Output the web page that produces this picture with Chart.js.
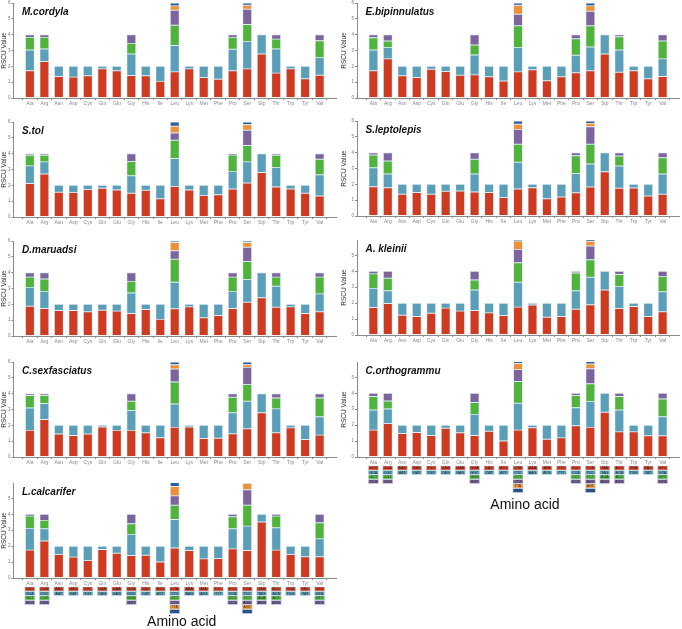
<!doctype html>
<html lang="en">
  <head>
    <meta charset="UTF-8">
    <title>RSCU</title>
    <style>
      body { margin: 0; background: #fff; }
      #wrap { position: relative; width: 682px; height: 629px; overflow: hidden; }
      #wrap canvas { position: absolute; }
    </style>
  </head>
  <body>
    <div id="wrap"></div>

    <script src="https://cdn.jsdelivr.net/npm/chart.js@4.4.1/dist/chart.umd.min.js"></script>
    <script>
    // Data-----
    const aminoAcids = ['Ala','Arg','Asn','Asp','Cys','Gln','Glu','Gly','His','Ile','Leu','Lys','Met','Phe','Pro','Ser','Stp','Thr','Trp','Tyr','Val'];
    const codons = [
      ['GCC','GCA','GCT','GCG'], ['CGA','CGC','CGT','CGG'], ['AAC','AAT'], ['GAC','GAT'], ['TGC','TGT'],
      ['CAA','CAG'], ['GAA','GAG'], ['GGA','GGC','GGG','GGT'], ['CAC','CAT'], ['ATC','ATT'],
      ['CTA','CTC','CTT','CTG','TTA','TTG'], ['AAA','AAG'], ['ATA','ATG'], ['TTC','TTT'],
      ['CCC','CCA','CCT','CCG'], ['TCA','TCC','TCT','AGC','AGT','TCG'], ['TAA','TAG','AGA','AGG'],
      ['ACC','ACA','ACT','ACG'], ['TGA','TGG'], ['TAC','TAT'], ['GTC','GTA','GTT','GTG']
    ];

    // RSCU per amino acid, codons in the order above
    const mCordyla = [
      [1.72,1.31,0.80,0.17],[2.30,0.80,0.73,0.17],[1.36,0.64],[1.32,0.68],[1.40,0.60],[1.84,0.16],[1.72,0.28],
      [1.42,1.36,0.67,0.55],[1.40,0.60],[1.05,0.95],[1.65,1.66,1.29,0.94,0.28,0.18],[1.84,0.16],[1.30,0.70],
      [1.19,0.81],[1.72,1.36,0.75,0.17],[1.84,1.72,1.08,0.97,0.25,0.14],[2.78,1.22,0,0],[1.57,1.53,0.62,0.28],
      [1.84,0.16],[1.21,0.79],[1.44,1.11,1.07,0.38]
    ];
    const eBipinnulatus = [
      [1.72,1.31,0.78,0.19],[2.47,0.71,0.42,0.40],[1.40,0.60],[1.30,0.70],[1.82,0.18],[1.67,0.33],[1.44,0.56],
      [1.46,1.26,0.63,0.65],[1.34,0.66],[1.07,0.93],[1.65,1.53,1.38,0.73,0.57,0.14],[1.78,0.22],[1.09,0.91],
      [1.34,0.66],[1.59,1.11,1.04,0.26],[1.72,1.50,1.34,0.92,0.34,0.18],[2.78,1.22,0,0],[1.63,1.40,0.84,0.13],
      [1.72,0.28],[1.21,0.79],[1.36,1.11,1.13,0.40]
    ];
    const sTol = [
      [2.12,1.11,0.67,0.10],[2.71,0.77,0.42,0.10],[1.56,0.44],[1.54,0.46],[1.73,0.27],[1.81,0.19],[1.71,0.29],
      [1.50,1.10,0.90,0.50],[1.69,0.31],[1.15,0.85],[1.92,1.77,1.16,0.46,0.42,0.27],[1.71,0.29],[1.35,0.65],
      [1.40,0.60],[1.77,1.11,1.04,0.08],[2.15,1.33,1.04,0.96,0.35,0.17],[2.81,1.19,0,0],[1.90,1.22,0.78,0.10],
      [1.77,0.23],[1.50,0.50],[1.33,1.34,0.98,0.35]
    ];
    const sLeptolepis = [
      [1.85,1.20,0.80,0.15],[1.79,0.86,0.82,0.53],[1.37,0.63],[1.49,0.51],[1.37,0.63],[1.56,0.44],[1.58,0.42],
      [1.52,1.13,0.93,0.42],[1.49,0.51],[1.16,0.84],[1.71,1.68,1.14,0.94,0.32,0.21],[1.79,0.21],[1.09,0.91],
      [1.20,0.80],[1.47,1.22,1.12,0.19],[1.83,1.45,1.25,1.11,0.21,0.15],[2.80,1.20,0,0],[1.75,1.41,0.63,0.21],
      [1.77,0.23],[1.26,0.74],[1.37,1.28,1.03,0.32]
    ];
    const dMaruadsi = [
      [1.88,1.19,0.65,0.28],[1.74,1.08,0.78,0.40],[1.61,0.39],[1.61,0.39],[1.53,0.47],[1.63,0.37],[1.57,0.43],
      [1.42,1.30,0.73,0.55],[1.67,0.33],[1.05,0.95],[1.72,1.67,1.46,0.53,0.52,0.10],[1.84,0.16],[1.15,0.85],
      [1.30,0.70],[1.74,1.08,0.90,0.28],[2.13,1.43,1.15,0.90,0.29,0.10],[2.41,1.59,0,0],[1.82,1.32,0.58,0.28],
      [1.84,0.16],[1.42,0.58],[1.53,1.13,1.06,0.28]
    ];
    const aKleinii = [
      [1.73,1.20,0.91,0.16],[1.98,0.80,0.79,0.43],[1.24,0.76],[1.16,0.84],[1.37,0.63],[1.69,0.31],[1.50,0.50],
      [1.54,1.29,0.63,0.54],[1.39,0.61],[1.22,0.78],[1.75,1.56,1.23,0.84,0.53,0.09],[1.88,0.12],[1.12,0.88],
      [1.16,0.84],[1.62,1.16,1.12,0.10],[1.90,1.73,1.10,0.86,0.30,0.11],[2.83,1.17,0,0],[1.67,1.37,0.76,0.20],
      [1.79,0.21],[1.16,0.84],[1.46,1.26,0.95,0.33]
    ];
    const cSexfasciatus = [
      [1.68,1.42,0.78,0.12],[2.37,1.01,0.50,0.12],[1.45,0.55],[1.36,0.64],[1.45,0.55],[1.89,0.11],[1.68,0.32],
      [1.68,1.26,0.58,0.48],[1.53,0.47],[1.22,0.78],[1.87,1.48,1.39,0.82,0.27,0.17],[1.89,0.11],[1.17,0.83],
      [1.19,0.81],[1.47,1.32,0.98,0.23],[1.78,1.74,1.05,1.09,0.17,0.17],[2.79,1.21,0,0],[1.53,1.51,0.69,0.27],
      [1.84,0.16],[1.11,0.89],[1.38,1.16,1.19,0.27]
    ];
    const lCalcarifer = [
      [1.75,1.37,0.77,0.11],[2.32,0.77,0.53,0.38],[1.47,0.53],[1.31,0.69],[1.09,0.91],[1.79,0.21],[1.56,0.44],
      [1.41,1.33,0.67,0.59],[1.43,0.57],[1.01,0.99],[1.89,1.79,0.89,0.59,0.59,0.25],[1.73,0.27],[1.20,0.80],
      [1.22,0.78],[1.83,1.26,0.76,0.15],[1.73,1.53,1.31,0.97,0.40,0.06],[3.52,0.48,0,0],[1.75,1.41,0.73,0.11],
      [1.47,0.53],[1.33,0.67],[1.33,1.13,1.01,0.53]
    ];
    const cOrthogrammu = [
      [1.69,1.26,0.85,0.20],[2.11,0.91,0.50,0.48],[1.48,0.52],[1.54,0.46],[1.35,0.65],[1.81,0.19],[1.52,0.48],
      [1.35,1.33,0.74,0.58],[1.62,0.38],[1.01,0.99],[1.69,1.69,1.37,0.74,0.38,0.13],[1.84,0.16],[1.12,0.88],
      [1.20,0.80],[1.96,1.14,0.76,0.14],[1.86,1.62,1.12,0.95,0.29,0.16],[2.81,1.19,0,0],[1.58,1.37,0.85,0.20],
      [1.58,0.42],[1.33,0.67],[1.33,1.20,1.12,0.35]
    ];
    // Data-----

    // Layout-----
    const segColors = ['#CF3B20', '#5B9EB8', '#50B43C', '#7C649C', '#EE9035', '#2F5D98'];
    const columns = [
      {left: 0, width: 340, yWidth: 13.5, padRight: 4},
      {left: 340, width: 342, yWidth: 17, padRight: 3}
    ];
    const areaH = 95;
    const panels = [
      {name: 'M.cordyla', rscu: mCordyla, col: 0, top: 3, ymax: 6},
      {name: 'S.tol', rscu: sTol, col: 0, top: 122, ymax: 6},
      {name: 'D.maruadsi', rscu: dMaruadsi, col: 0, top: 241, ymax: 6},
      {name: 'C.sexfasciatus', rscu: cSexfasciatus, col: 0, top: 362, ymax: 6},
      {name: 'L.calcarifer', rscu: lCalcarifer, col: 0, top: 483, ymax: 5.97, bottom: 150, titleY: 44},
      {name: 'E.bipinnulatus', rscu: eBipinnulatus, col: 1, top: 3, ymax: 6},
      {name: 'S.leptolepis', rscu: sLeptolepis, col: 1, top: 121, ymax: 6},
      {name: 'A. kleinii', rscu: aKleinii, col: 1, top: 240, ymax: 5.97},
      {name: 'C.orthogrammu', rscu: cOrthogrammu, col: 1, top: 362, ymax: 5.97, bottom: 160, titleY: 48}
    ];
    // Layout-----

    // species name, codon boxes and "Amino acid"
    const panelDecor = {
      id: 'panelDecor',
      afterDraw(chart, args, opts) {
        const {ctx, chartArea: a} = chart;
        const x = chart.scales.x;
        ctx.save();
        ctx.fillStyle = '#111';
        ctx.font = 'italic bold 10px "Liberation Sans", Arial, sans-serif';
        ctx.textAlign = 'left';
        ctx.textBaseline = 'alphabetic';
        ctx.fillText(opts.name, a.left + 8.5, a.top + 12);
        if (opts.bottom) {
          ctx.font = '3.6px "Liberation Sans", Arial, sans-serif';
          ctx.textAlign = 'center';
          ctx.textBaseline = 'middle';
          codons.forEach((list, i) => {
            const cx = x.getPixelForValue(i);
            list.forEach((cod, k) => {
              const cy = a.bottom + 11 + k * 4.5;
              ctx.fillStyle = segColors[k];
              ctx.fillRect(cx - 5, cy - 2, 10, 4);
              ctx.strokeStyle = 'rgba(205,222,235,0.9)';
              ctx.lineWidth = 0.6;
              ctx.strokeRect(cx - 5, cy - 2, 10, 4);
              ctx.fillStyle = 'rgba(35,35,35,0.85)';
              ctx.fillText(cod, cx, cy + 0.2);
            });
          });
          ctx.fillStyle = '#111';
          ctx.font = '14px "Liberation Sans", Arial, sans-serif';
          ctx.fillText('Amino acid', (a.left + a.right) / 2 + 7, a.bottom + opts.titleY);
        }
        ctx.restore();
      }
    };

    panels.forEach((p, n) => {
      const col = columns[p.col];
      const h = p.bottom || 111;
      const canvas = document.createElement('canvas');
      canvas.id = 'panel' + n;
      canvas.width = col.width;
      canvas.height = h;
      canvas.style.left = col.left + 'px';
      canvas.style.top = (p.top - 4) + 'px';
      document.getElementById('wrap').appendChild(canvas);

      const datasets = segColors.map((color, k) => ({
        data: p.rscu.map((vals, i) => vals[k] === undefined ? null : {x: i, y: vals[k]}).filter(Boolean),
        backgroundColor: color,
        borderColor: 'rgba(222,234,243,0.9)',
        borderWidth: 0.8,
        borderSkipped: false,
        barThickness: 9,
        stack: 'rscu'
      }));

      new Chart(canvas, {
        type: 'bar',
        data: {datasets},
        plugins: [panelDecor],
        options: {
          responsive: false,
          animation: false,
          devicePixelRatio: 1,
          layout: {padding: {top: 4, right: col.padRight, left: 0, bottom: 0}},
          plugins: {
            legend: {display: false},
            tooltip: {enabled: false},
            panelDecor: {name: p.name, bottom: !!p.bottom, titleY: p.titleY}
          },
          scales: {
            x: {
              type: 'linear',
              min: -0.6,
              max: 20.6,
              afterBuildTicks: (scale) => { scale.ticks = aminoAcids.map((_, i) => ({value: i})); },
              afterFit: (scale) => { scale.height = h - 4 - areaH; },
              grid: {drawOnChartArea: false, drawTicks: true, tickLength: 2, color: '#8a8a8a'},
              border: {display: true, color: '#8a8a8a', width: 1},
              ticks: {
                autoSkip: false, maxRotation: 0, padding: 1,
                color: '#8a8a8a', font: {size: 5, family: '"Liberation Sans", Arial, sans-serif'},
                callback: (v) => aminoAcids[v] ?? ''
              }
            },
            y: {
              stacked: true,
              min: 0,
              max: p.ymax,
              afterFit: (scale) => { scale.width = col.yWidth; },
              grid: {drawOnChartArea: false, drawTicks: true, tickLength: 2, color: '#8a8a8a'},
              border: {display: true, color: '#8a8a8a', width: 1},
              ticks: {
                stepSize: 1, includeBounds: false, padding: 1,
                color: '#777', font: {size: 4.5, family: '"Liberation Sans", Arial, sans-serif'}
              },
              title: {
                display: true, text: 'RSCU Value', color: '#333', padding: 0,
                font: {size: 6.5, family: '"Liberation Sans", Arial, sans-serif'}
              }
            }
          }
        }
      });
    });
    </script>
  </body>
</html>
